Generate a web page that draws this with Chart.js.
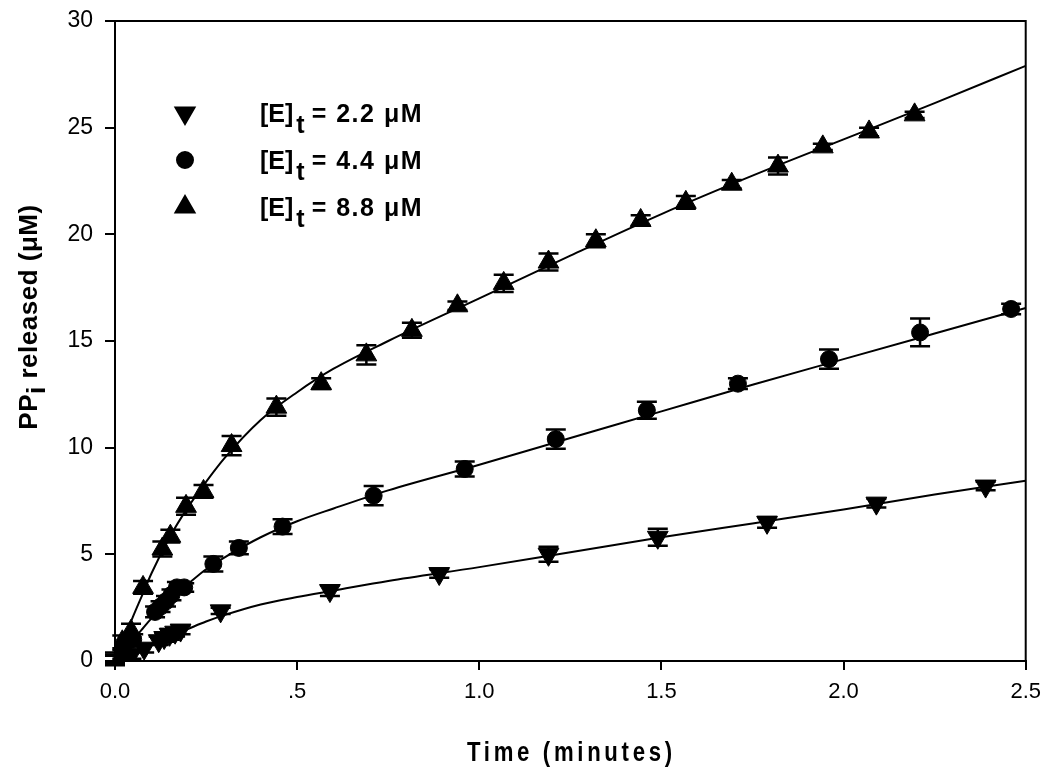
<!DOCTYPE html>
<html>
<head>
<meta charset="utf-8">
<script src="https://cdn.jsdelivr.net/npm/chart.js@4.4.1/dist/chart.umd.min.js"></script>
<style>
  html, body { margin: 0; padding: 0; background: #fff; }
  #wrap { width: 1050px; height: 778px; }
</style>
</head>
<body>
<div id="wrap"><canvas id="pp" width="1050" height="778"></canvas></div>
<script>
// ---- data ----
// [E]t = 2.2 uM (down triangles)
const t22 = [0, 0.045, 0.08, 0.12, 0.135, 0.15, 0.165, 0.18, 0.29, 0.59, 0.89, 1.19, 1.49, 1.79, 2.09, 2.39];
const y22 = [0.05, 0.3, 0.6, 0.95, 1.1, 1.25, 1.35, 1.45, 2.35, 3.3, 4.1, 5.0, 5.8, 6.5, 7.4, 8.2];
const e22 = [0.2, 0.2, 0.2, 0.2, 0.2, 0.25, 0.2, 0.2, 0.15, 0.25, 0.2, 0.35, 0.4, 0.25, 0.2, 0.2];

// [E]t = 4.4 uM (circles)
const t44 = [0, 0.02, 0.05, 0.11, 0.125, 0.14, 0.155, 0.17, 0.19, 0.27, 0.34, 0.46, 0.71, 0.96, 1.21, 1.46, 1.71, 1.96, 2.21, 2.46];
const y44 = [0.1, 0.3, 1.0, 2.3, 2.55, 2.8, 3.1, 3.45, 3.45, 4.55, 5.3, 6.3, 7.75, 9.0, 10.4, 11.75, 13.0, 14.15, 15.4, 16.5];
const e44 = [0.2, 0.2, 0.25, 0.25, 0.25, 0.25, 0.25, 0.25, 0.2, 0.35, 0.3, 0.35, 0.45, 0.35, 0.45, 0.4, 0.25, 0.45, 0.65, 0.25];

// [E]t = 8.8 uM (up triangles)
const t88 = [0, 0.02, 0.044, 0.077, 0.13, 0.152, 0.195, 0.243, 0.32, 0.443, 0.566, 0.69, 0.815, 0.94, 1.067, 1.19, 1.32, 1.443, 1.567, 1.693, 1.82, 1.943, 2.07, 2.195];
const y88 = [0.1, 0.9, 1.4, 3.45, 5.25, 5.85, 7.25, 7.95, 10.1, 11.9, 13.0, 14.35, 15.5, 16.65, 17.7, 18.7, 19.7, 20.65, 21.5, 22.35, 23.2, 24.1, 24.8, 25.6];
const e88 = [0.3, 0.3, 0.35, 0.3, 0.35, 0.3, 0.4, 0.3, 0.45, 0.4, 0.25, 0.45, 0.35, 0.2, 0.4, 0.4, 0.3, 0.25, 0.3, 0.2, 0.4, 0.15, 0.2, 0.15];

// fitted curves
const fitT  = [0, 0.025, 0.05, 0.075, 0.1, 0.15, 0.2, 0.25, 0.3, 0.4, 0.5, 0.6, 0.75, 1.0, 1.25, 1.5, 1.75, 2.0, 2.25, 2.5];
const fit22 = [0, 0.2, 0.4, 0.6, 0.8, 1.15, 1.5, 1.85, 2.15, 2.65, 3.0, 3.3, 3.75, 4.4, 5.1, 5.8, 6.45, 7.1, 7.8, 8.45];
const fit44 = [0, 0.5, 1.0, 1.5, 2.0, 2.85, 3.6, 4.3, 4.85, 5.8, 6.55, 7.15, 8.0, 9.2, 10.45, 11.7, 12.95, 14.15, 15.35, 16.55];
const fit88 = [0, 1.05, 2.1, 3.1, 4.1, 5.8, 7.2, 8.4, 9.5, 11.3, 12.6, 13.7, 15.0, 17.0, 19.0, 20.95, 22.75, 24.45, 26.15, 27.9];

const xTickLabels = ['0.0', '.5', '1.0', '1.5', '2.0', '2.5'];
const yTicks = [0, 5, 10, 15, 20, 25, 30];
const legendLabels = ['2.2', '4.4', '8.8'];

const pairs = (xs, ys) => xs.map((x, i) => ({ x: x, y: ys[i] }));

const markerSets = [
  { label: legendLabels[0], data: pairs(t22, y22), errs: e22, pointStyle: 'triangle', rotation: 180, radius: 12 },
  { label: legendLabels[1], data: pairs(t44, y44), errs: e44, pointStyle: 'circle', rotation: 0, radius: 8.5 },
  { label: legendLabels[2], data: pairs(t88, y88), errs: e88, pointStyle: 'triangle', rotation: 0, radius: 12 }
];

function curve(ys) {
  return {
    data: pairs(fitT, ys),
    showLine: true,
    borderColor: '#000',
    borderWidth: 2,
    pointRadius: 0,
    cubicInterpolationMode: 'monotone',
    fill: false
  };
}

function markers(s) {
  return {
    label: s.label,
    data: s.data,
    errs: s.errs,
    showLine: false,
    pointStyle: s.pointStyle,
    rotation: s.rotation,
    pointRadius: s.radius,
    backgroundColor: '#000',
    borderColor: '#000',
    borderWidth: 1
  };
}

// error bars drawn from each marker dataset's errs array
const errorBars = {
  id: 'errorBars',
  afterDatasetsDraw(chart) {
    const ctx = chart.ctx;
    const ys = chart.scales.y;
    ctx.save();
    ctx.strokeStyle = '#000';
    ctx.lineWidth = 2.5;
    chart.data.datasets.forEach((ds, di) => {
      if (!ds.errs) return;
      const meta = chart.getDatasetMeta(di);
      meta.data.forEach((pt, i) => {
        const v = ds.data[i].y;
        const e = ds.errs[i];
        const top = ys.getPixelForValue(v + e);
        const bot = ys.getPixelForValue(v - e);
        ctx.beginPath();
        ctx.moveTo(pt.x, top); ctx.lineTo(pt.x, bot);
        ctx.moveTo(pt.x - 10, top); ctx.lineTo(pt.x + 10, top);
        ctx.moveTo(pt.x - 10, bot); ctx.lineTo(pt.x + 10, bot);
        ctx.stroke();
      });
    });
    ctx.restore();
  }
};

// frame, axis titles and legend
const decor = {
  id: 'decor',
  afterDraw(chart) {
    const ctx = chart.ctx;
    const a = chart.chartArea;
    ctx.save();
    ctx.strokeStyle = '#000';
    ctx.lineWidth = 2;
    ctx.beginPath();
    ctx.moveTo(a.left - 10, a.top);
    ctx.lineTo(a.right, a.top);
    ctx.lineTo(a.right, a.bottom);
    ctx.stroke();

    ctx.fillStyle = '#000';
    ctx.textBaseline = 'alphabetic';

    // x title, condensed with wide spacing like the original
    ctx.save();
    ctx.translate((a.left + a.right) / 2 + 1, 761);
    ctx.scale(0.82, 1);
    ctx.font = "bold 27px 'Liberation Sans', Arial, sans-serif";
    ctx.letterSpacing = '4.5px';
    ctx.textAlign = 'center';
    ctx.fillText('Time (minutes)', 0, 0);
    ctx.restore();

    // y title, rotated, with subscript i
    ctx.save();
    ctx.translate(37, 317);
    ctx.rotate(-Math.PI / 2);
    ctx.font = "bold 26px 'Liberation Sans', Arial, sans-serif";
    ctx.letterSpacing = '0.5px';
    ctx.textAlign = 'left';
    const p1 = 'PP', p2 = 'i', p3 = ' released (\u03bcM)';
    const w1 = ctx.measureText(p1).width;
    const w2 = ctx.measureText(p2).width;
    const w3 = ctx.measureText(p3).width;
    const x0 = -(w1 + w2 + w3) / 2;
    ctx.fillText(p1, x0, 0);
    ctx.fillText(p2, x0 + w1, 8);
    ctx.fillText(p3, x0 + w1 + w2, 0);
    ctx.restore();

    // legend
    const rowY = [a.top + 92, a.top + 139, a.top + 186];
    markerSets.forEach((s, i) => {
      const y = rowY[i];
      Chart.helpers.drawPoint(ctx, {
        pointStyle: s.pointStyle, rotation: s.rotation,
        radius: s.pointStyle === 'circle' ? 8 : 11, borderWidth: 1
      }, a.left + 70, y);
      ctx.font = "bold 25px 'Liberation Sans', Arial, sans-serif";
      ctx.letterSpacing = '0px';
      ctx.textAlign = 'left';
      const base = y + 9;
      let x = a.left + 145;
      ctx.fillText('[E]', x, base);
      x += ctx.measureText('[E]').width + 3;
      ctx.fillText('t', x, base + 11);
      x += ctx.measureText('t').width + 7;
      ctx.letterSpacing = '1.5px';
      ctx.fillText('= ' + s.label + ' \u03bcM', x, base);
    });
    ctx.restore();
  }
};

new Chart(document.getElementById('pp'), {
  type: 'scatter',
  data: {
    datasets: [curve(fit22), curve(fit44), curve(fit88)].concat(markerSets.map(markers))
  },
  options: {
    responsive: false,
    animation: false,
    layout: { padding: { left: 0, top: 21, right: 24, bottom: 0 } },
    plugins: { legend: { display: false }, tooltip: { enabled: false } },
    scales: {
      x: {
        type: 'linear',
        min: 0, max: 2.5,
        afterFit(scale) { scale.height = 117; },
        afterBuildTicks(scale) { scale.ticks = xTickLabels.map((l, i) => ({ value: i * 0.5 })); },
        ticks: {
          color: '#000',
          padding: 9,
          maxRotation: 0,
          font: { family: "'Liberation Sans', Arial, sans-serif", size: 22 },
          callback: (v, i) => xTickLabels[i]
        },
        grid: { drawOnChartArea: false, color: '#000', lineWidth: 2, tickLength: 9 },
        border: { color: '#000', width: 2 }
      },
      y: {
        type: 'linear',
        min: 0, max: 30,
        afterFit(scale) {
          scale.width = 115;
          scale.paddingTop = 0;
          scale.paddingBottom = 0;
        },
        afterBuildTicks(scale) { scale.ticks = yTicks.map(v => ({ value: v })); },
        ticks: {
          color: '#000',
          padding: 12,
          font: { family: "'Liberation Sans', Arial, sans-serif", size: 23 }
        },
        grid: { drawOnChartArea: false, color: '#000', lineWidth: 2, tickLength: 10 },
        border: { color: '#000', width: 2 }
      }
    }
  },
  plugins: [errorBars, decor]
});
</script>
</body>
</html>
